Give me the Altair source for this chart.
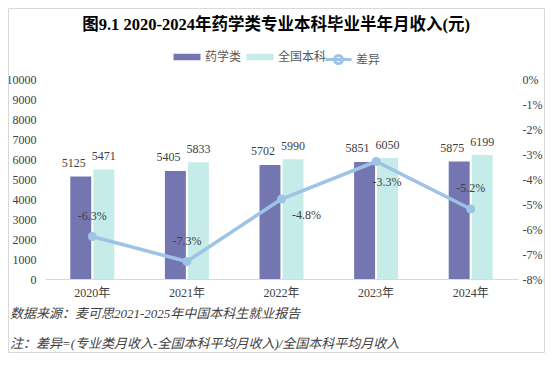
import altair as alt
import pandas as pd

# ---------------- data ----------------
years = ["2020年", "2021年", "2022年", "2023年", "2024年"]
pharmacy_income = [5125, 5405, 5702, 5851, 5875]
national_income = [5471, 5833, 5990, 6050, 6199]
diff_pct = [-6.3, -7.3, -4.8, -3.3, -5.2]
series_names = ["药学类", "全国本科"]
diff_name = "差异"
left_ticks = [0, 1000, 2000, 3000, 4000, 5000, 6000, 7000, 8000, 9000, 10000]
right_ticks = [0, -1, -2, -3, -4, -5, -6, -7, -8]
title_text = "图9.1  2020-2024年药学类专业本科毕业半年月收入(元)"
source_text = "数据来源：麦可思2021-2025年中国本科生就业报告"
note_text = "注：差异=(专业类月收入-全国本科平均月收入)/全国本科平均月收入"

# ---------------- style ----------------
PURPLE = "#7476B2"
TEAL = "#C6ECEA"
LINE = "#9DC3E6"
TXT = "#404040"
SERIF = "'Liberation Serif', 'Noto Sans CJK SC', serif"
CJK = "Noto Sans CJK SC"
W, H = 473, 200

bars_df = pd.DataFrame({
    "year": years * 2,
    "series": [series_names[0]] * len(years) + [series_names[1]] * len(years),
    "value": pharmacy_income + national_income,
})
line_df = pd.DataFrame({
    "year": years,
    "diff": [d / 100 for d in diff_pct],
    "label": [f"{d:.1f}%" for d in diff_pct],
    "name": [diff_name] * len(years),
})
deco_df = pd.DataFrame({"k": [0]})

x_enc = alt.X(
    "year:N", sort=years, title=None,
    scale=alt.Scale(paddingInner=0.535, paddingOuter=0.2675),
    axis=alt.Axis(labelAngle=0, ticks=False, domainColor="#d9d9d9", domainWidth=1,
                  labelPadding=8, labelFont=SERIF, labelFontSize=12, labelColor=TXT),
)
xoff = alt.XOffset("series:N", sort=series_names, scale=alt.Scale(paddingInner=0.09))
y_left = alt.Y(
    "value:Q", title=None, scale=alt.Scale(domain=[0, 10000], nice=False),
    axis=alt.Axis(orient="left", values=left_ticks, format="d", grid=False, domain=False,
                  ticks=False, labelPadding=9, labelFont=SERIF,
                  labelFontSize=12, labelColor=TXT),
)
y_right = alt.Y(
    "diff:Q", title=None, scale=alt.Scale(domain=[-0.08, 0], nice=False),
    axis=alt.Axis(orient="right", values=[t / 100 for t in right_ticks], grid=False,
                  domain=False, ticks=False, labelPadding=4, labelFont=SERIF,
                  labelFontSize=12, labelColor=TXT,
                  labelExpr="replace(format(datum.value, '.0%'), '\u2212', '-')"),
)

bars = alt.Chart(bars_df).mark_bar().encode(
    x=x_enc, xOffset=xoff, y=y_left,
    fill=alt.Fill("series:N", sort=series_names,
                  scale=alt.Scale(domain=series_names, range=[PURPLE, TEAL]),
                  legend=alt.Legend(title=None, orient="none", direction="horizontal",
                                    legendX=136, legendY=-28, padding=0,
                                    symbolType="M-2.7,-0.65H2.7V0.65H-2.7Z", symbolSize=100,
                                    symbolStrokeWidth=0,
                                    labelOffset=12, columnPadding=4, labelFont=CJK,
                                    labelFontSize=12, labelColor="#595959")),
)
lab_font = dict(font=SERIF, fontSize=12, color=TXT)
bar_labels_a = alt.Chart(bars_df).mark_text(dy=-13.5, dx=-7, **lab_font).encode(
    x=x_enc, xOffset=xoff, y=y_left, text="value:Q",
).transform_filter(alt.FieldEqualPredicate(field="series", equal=series_names[0]))
bar_labels_b = alt.Chart(bars_df).mark_text(dy=-13.5, **lab_font).encode(
    x=x_enc, xOffset=xoff, y=y_left, text="value:Q",
).transform_filter(alt.FieldEqualPredicate(field="series", equal=series_names[1]))
bar_layer = alt.layer(bars, bar_labels_a, bar_labels_b)

line = alt.Chart(line_df).mark_line(strokeWidth=3.5).encode(
    x=x_enc, y=y_right,
    stroke=alt.Stroke("name:N", scale=alt.Scale(domain=[diff_name], range=[LINE]),
                      legend=alt.Legend(title=None, orient="none", direction="horizontal",
                                        legendX=282, legendY=-31, padding=0,
                                        symbolType="M-1.3,0H1.3M0.4,0A0.4,0.4,0,1,1,-0.4,0A0.4,0.4,0,1,1,0.4,0",
                                        symbolSize=400, symbolStrokeWidth=3,
                                        labelOffset=6, labelFont=CJK, labelFontSize=12,
                                        labelColor="#595959")),
)
points = alt.Chart(line_df).mark_circle(size=80, color=LINE, opacity=1).encode(x=x_enc, y=y_right)
lab_above = alt.Chart(line_df).mark_text(dy=-21, **lab_font).encode(
    x=x_enc, y=y_right, text="label:N"
).transform_filter(alt.FieldOneOfPredicate(field="year", oneOf=[years[0], years[1], years[4]]))
lab_2022 = alt.Chart(line_df).mark_text(dx=25, dy=16, **lab_font).encode(
    x=x_enc, y=y_right, text="label:N"
).transform_filter(alt.FieldEqualPredicate(field="year", equal=years[2]))
lab_2023 = alt.Chart(line_df).mark_text(dx=11, dy=20, **lab_font).encode(
    x=x_enc, y=y_right, text="label:N"
).transform_filter(alt.FieldEqualPredicate(field="year", equal=years[3]))
line_layer = alt.layer(line, points, lab_above, lab_2022, lab_2023)

border = alt.Chart(deco_df).mark_rect(fill="transparent", stroke="#d9d9d9", strokeWidth=1).encode(
    x=alt.value(-36.5), x2=alt.value(W + 26.5), y=alt.value(-70.5), y2=alt.value(H + 73.5)
)
title = alt.Chart(deco_df).mark_text(
    text=title_text, font=SERIF, fontSize=16.5,
    fontWeight="bold", color="#000000", align="center"
).encode(x=alt.value(231), y=alt.value(-54))
source = alt.Chart(deco_df).mark_text(
    text=source_text, font=SERIF, fontSize=13, fontStyle="italic", color=TXT, align="left"
).encode(x=alt.value(-35), y=alt.value(235))
note = alt.Chart(deco_df).mark_text(
    text=note_text, font=SERIF, fontSize=13, fontStyle="italic", color=TXT, align="left"
).encode(x=alt.value(-35), y=alt.value(265))
deco = alt.layer(border, title, source, note)

chart = alt.layer(bar_layer, line_layer, deco).resolve_scale(y="independent").properties(
    width=W, height=H,
    autosize=alt.AutoSizeParams(type="none"),
    padding={"left": 37, "top": 71, "right": 27, "bottom": 74},
    background="white",
).configure_view(stroke=None)

chart.save("out.html", embed_options={"renderer": "svg", "actions": False})
